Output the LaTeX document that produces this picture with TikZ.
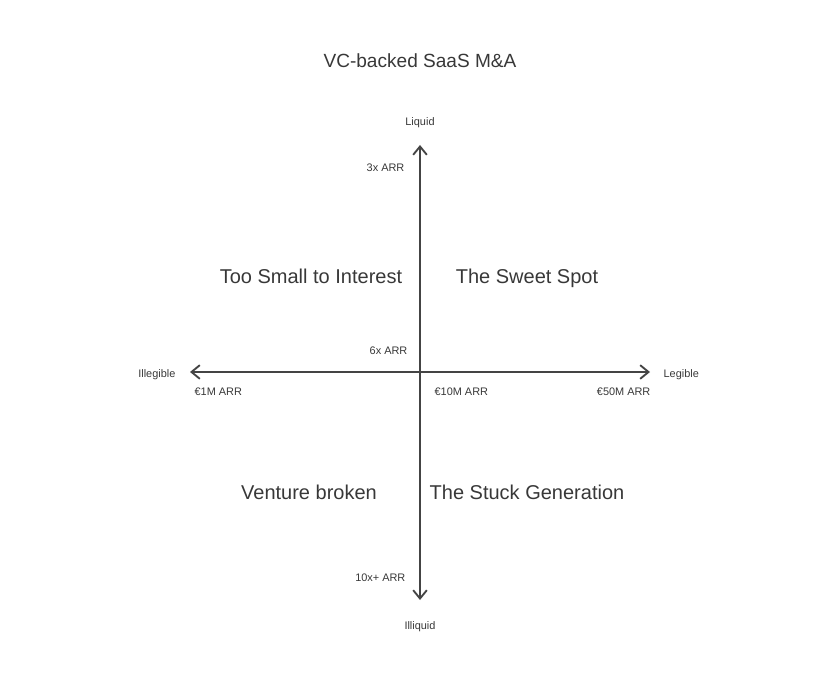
\documentclass[tikz,border=0pt]{standalone}
\usepackage{fontspec}
\setmainfont{Liberation Sans}
\usetikzlibrary{arrows.meta,positioning}
\definecolor{VCInk}{HTML}{444444}
\definecolor{VCText}{HTML}{383838}

\begin{document}
\begin{tikzpicture}[
      x=0.75pt,y=-0.75pt,
      >={Straight Barb[length=2.2mm,width=3.6mm,line width=1.4pt]},
      axis/.style={<->,line width=1.5pt,draw=VCInk},
      tick/.style={font=\fontsize{8.2}{10}\selectfont,text=VCText,inner sep=1pt,
        text height=0.72em,text depth=0em},
      quad/.style={font=\fontsize{15}{18}\selectfont,text=VCText,inner sep=0pt,
        text height=0.72em,text depth=0em}
    ]
    \useasboundingbox (0,0) rectangle (840,684);
    \node[font=\fontsize{14.3}{17}\selectfont,text=VCText,
      text height=0.72em,text depth=0em] (title) at (420,63)
      {VC-backed SaaS M\&A};

    % axes
    \coordinate (west) at (190,372);
    \coordinate (east) at (650,372);
    \coordinate (north) at (420,145);
    \coordinate (south) at (420,600);
    \draw[axis] (west) -- (east);
    \draw[axis] (south) -- (north);

    % axis ends
    \node[tick] (liquid) at (420,121) {Liquid};
    \node[tick] (illiquid) at (420,625) {Illiquid};
    \node[tick,anchor=east] (illegible) at (177,373) {Illegible};
    \node[tick,anchor=west] (legible) at (662,373) {Legible};

    % scale marks
    \node[tick,anchor=east] (m3) at (406,167) {3x ARR};
    \node[tick,anchor=east] (m6) at (409,350) {6x ARR};
    \node[tick,anchor=east] (m10) at (407,577) {10x+ ARR};
    \node[tick,anchor=west] (a1) at (193,391) {€1M ARR};
    \node[tick,anchor=west] (a10) at (433,391) {€10M ARR};
    \node[tick,anchor=east] (a50) at (652,391) {€50M ARR};

    % quadrants
    \node[quad] (small) at (311,279) {Too Small to Interest};
    \node[quad] (sweet) at (527,279) {The Sweet Spot};
    \node[quad] (broken) at (309,495) {Venture broken};
    \node[quad] (stuck) at (527,495) {The Stuck Generation};
  \end{tikzpicture}
\end{document}
